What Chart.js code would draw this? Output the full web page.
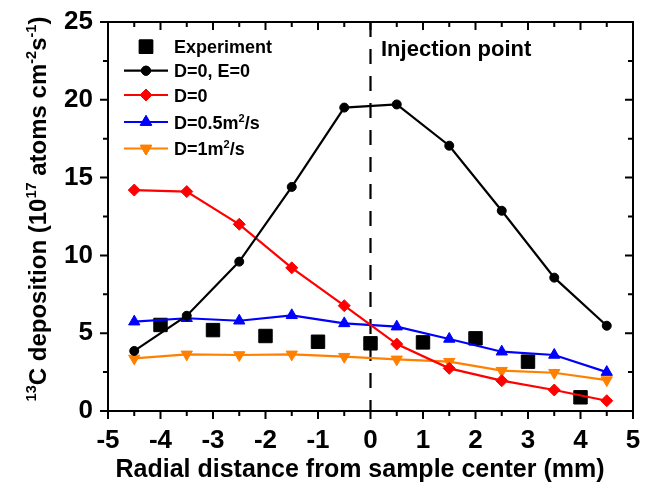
<!DOCTYPE html>
<html>
<head>
<meta charset="utf-8">
<script src="https://cdn.jsdelivr.net/npm/chart.js"></script>
<style>
  body { margin: 0; background: #fff; }
</style>
</head>
<body>
<canvas id="deposition" width="654" height="493"></canvas>
<script>
// radial positions (mm)
const simX = [-4.5, -3.5, -2.5, -1.5, -0.5, 0.5, 1.5, 2.5, 3.5, 4.5]
const expX = [-4, -3, -2, -1, 0, 1, 2, 3, 4]

// 13C deposition in 1e17 atoms cm-2 s-1
const experiment = [5.53, 5.2, 4.82, 4.45, 4.35, 4.41, 4.67, 3.17, 0.88]
const noDiffNoE = [3.86, 6.12, 9.6, 14.4, 19.5, 19.7, 17.05, 12.87, 8.57, 5.48]
const noDiff = [14.2, 14.1, 12.0, 9.2, 6.77, 4.3, 2.74, 1.95, 1.35, 0.66]
const diff05 = [5.74, 5.96, 5.8, 6.15, 5.63, 5.42, 4.63, 3.81, 3.6, 2.5]
const diff1 = [3.38, 3.64, 3.6, 3.64, 3.49, 3.32, 3.17, 2.59, 2.46, 1.99]

// injection point marker, drawn top-down so the dashes start at the top
const injectionX = [0, 0]
const injectionY = [25, 0]

const xRange = [-5, 5]
const yRange = [0, 25]

const FONT = '"Liberation Sans", Arial, Helvetica, sans-serif'
Chart.defaults.font.family = FONT

const toPoints = (xs, ys) => xs.map((x, i) => ({ x: x, y: ys[i] }))

const series = (label, xs, ys, color, style, radius, extra) => Object.assign({
  label: label,
  data: toPoints(xs, ys),
  showLine: true,
  borderColor: color,
  backgroundColor: color,
  borderWidth: 2.2,
  pointStyle: style,
  pointRadius: radius,
  pointBorderWidth: 1,
  pointBorderColor: color,
  pointBackgroundColor: color,
  tension: 0
}, extra || {})

const datasets = [
  series('D=0, E=0', simX, noDiffNoE, '#000000', 'circle', 4.5),
  series('D=0', simX, noDiff, '#ff0000', 'rectRot', 6),
  series('D=0.5m2/s', simX, diff05, '#0000ff', 'triangle', 6.5),
  series('D=1m2/s', simX, diff1, '#ff8000', 'triangle', 6.5, { pointRotation: 180 }),
  series('Experiment', expX, experiment, '#000000', 'rect', 9.5, { showLine: false }),
  {
    label: 'injection',
    data: toPoints(injectionX, injectionY),
    showLine: true,
    borderColor: '#000',
    borderWidth: 2.2,
    borderDash: [15, 12],
    pointRadius: 0
  }
]

// legend rows: text pieces, superscripts flagged
const legendRows = [
  { ds: 4, y: 46.7, line: false, text: [{ t: 'Experiment' }] },
  { ds: 0, y: 70.7, line: true, text: [{ t: 'D=0, E=0' }] },
  { ds: 1, y: 95, line: true, text: [{ t: 'D=0' }] },
  { ds: 2, y: 122, line: true, text: [{ t: 'D=0.5m' }, { t: '2', sup: true }, { t: '/s' }] },
  { ds: 3, y: 148.5, line: true, text: [{ t: 'D=1m' }, { t: '2', sup: true }, { t: '/s' }] }
]

const yTitle = [
  { t: '13', sup: true }, { t: 'C deposition (10' }, { t: '17', sup: true },
  { t: ' atoms cm' }, { t: '-2', sup: true }, { t: 's' }, { t: '-1', sup: true }, { t: ')' }
]

function richWidth(ctx, pieces, size, supSize) {
  let w = 0
  pieces.forEach(p => {
    ctx.font = 'bold ' + (p.sup ? supSize : size) + 'px ' + FONT
    w += ctx.measureText(p.t).width
  })
  return w
}

function drawRich(ctx, pieces, x, y, size, supSize, rise) {
  pieces.forEach(p => {
    ctx.font = 'bold ' + (p.sup ? supSize : size) + 'px ' + FONT
    ctx.fillText(p.t, x, p.sup ? y - rise : y)
    x += ctx.measureText(p.t).width
  })
}

// keep tick labels from pushing the plot area in
const noLabelPadding = s => {
  s.paddingTop = 0
  s.paddingBottom = 0
  s.paddingLeft = 0
  s.paddingRight = 0
}

const decorations = {
  id: 'decorations',
  afterDraw(chart) {
    const ctx = chart.ctx
    const a = chart.chartArea
    const xs = chart.scales.x
    const ys = chart.scales.y
    ctx.save()
    ctx.strokeStyle = '#000'
    ctx.fillStyle = '#000'
    ctx.lineWidth = 2
    ctx.strokeRect(a.left, a.top, a.right - a.left, a.bottom - a.top)

    // ticks: outward on bottom/left, inward on top/right
    ctx.beginPath()
    for (let v = xRange[0]; v <= xRange[1] + 1e-9; v += 0.5) {
      const px = xs.getPixelForValue(v)
      const len = Number.isInteger(v) ? 8 : 5
      ctx.moveTo(px, a.bottom); ctx.lineTo(px, a.bottom + len)
      ctx.moveTo(px, a.top); ctx.lineTo(px, a.top + len)
    }
    for (let v = yRange[0]; v <= yRange[1] + 1e-9; v += 2.5) {
      const py = ys.getPixelForValue(v)
      const len = v % 5 === 0 ? 8 : 5
      ctx.moveTo(a.left, py); ctx.lineTo(a.left - len, py)
      ctx.moveTo(a.right, py); ctx.lineTo(a.right - len, py)
    }
    ctx.stroke()

    // legend
    ctx.textAlign = 'left'
    ctx.textBaseline = 'alphabetic'
    legendRows.forEach(row => {
      const ds = chart.data.datasets[row.ds]
      if (row.line) {
        ctx.beginPath()
        ctx.strokeStyle = ds.borderColor
        ctx.lineWidth = 2.2
        ctx.moveTo(124, row.y); ctx.lineTo(168, row.y)
        ctx.stroke()
      }
      ctx.lineWidth = 1
      Chart.helpers.drawPoint(ctx, {
        pointStyle: ds.pointStyle,
        rotation: ds.pointRotation || 0,
        radius: ds.pointRadius,
        borderWidth: 1
      }, 146, row.y)
      ctx.fillStyle = ds.pointBackgroundColor
      ctx.strokeStyle = ds.pointBorderColor
      ctx.fill()
      ctx.stroke()
      ctx.fillStyle = '#000'
      drawRich(ctx, row.text, 174, row.y + 6.5, 18, 11, 7)
    })

    // injection point label
    ctx.font = 'bold 22px ' + FONT
    ctx.fillText('Injection point', 381, 56)

    // x title
    ctx.textAlign = 'center'
    ctx.font = 'bold 25px ' + FONT
    ctx.fillText('Radial distance from sample center (mm)', 360, 477)

    // y title, rotated
    ctx.textAlign = 'left'
    const w = richWidth(ctx, yTitle, 24, 14.5)
    ctx.translate(45.5, 209)
    ctx.rotate(-Math.PI / 2)
    drawRich(ctx, yTitle, -w / 2, 0, 24, 14.5, 9.5)
    ctx.restore()
  }
}

new Chart(document.getElementById('deposition'), {
  type: 'scatter',
  data: { datasets: datasets },
  options: {
    responsive: false,
    animation: false,
    layout: { padding: { top: 22, right: 21, left: 0, bottom: 0 } },
    plugins: { legend: { display: false }, tooltip: { enabled: false } },
    scales: {
      x: {
        type: 'linear',
        min: xRange[0],
        max: xRange[1],
        grid: { drawOnChartArea: false, drawTicks: false },
        border: { display: false },
        ticks: { stepSize: 1, padding: 14, color: '#000', font: { size: 26, weight: 'bold' } },
        afterFit: s => { s.height = 82; noLabelPadding(s) }
      },
      y: {
        min: yRange[0],
        max: yRange[1],
        grid: { drawOnChartArea: false, drawTicks: false },
        border: { display: false },
        ticks: { stepSize: 5, padding: 15, color: '#000', font: { size: 26, weight: 'bold' } },
        afterFit: s => { s.width = 108; noLabelPadding(s) }
      }
    }
  },
  plugins: [decorations]
})
</script>
</body>
</html>
